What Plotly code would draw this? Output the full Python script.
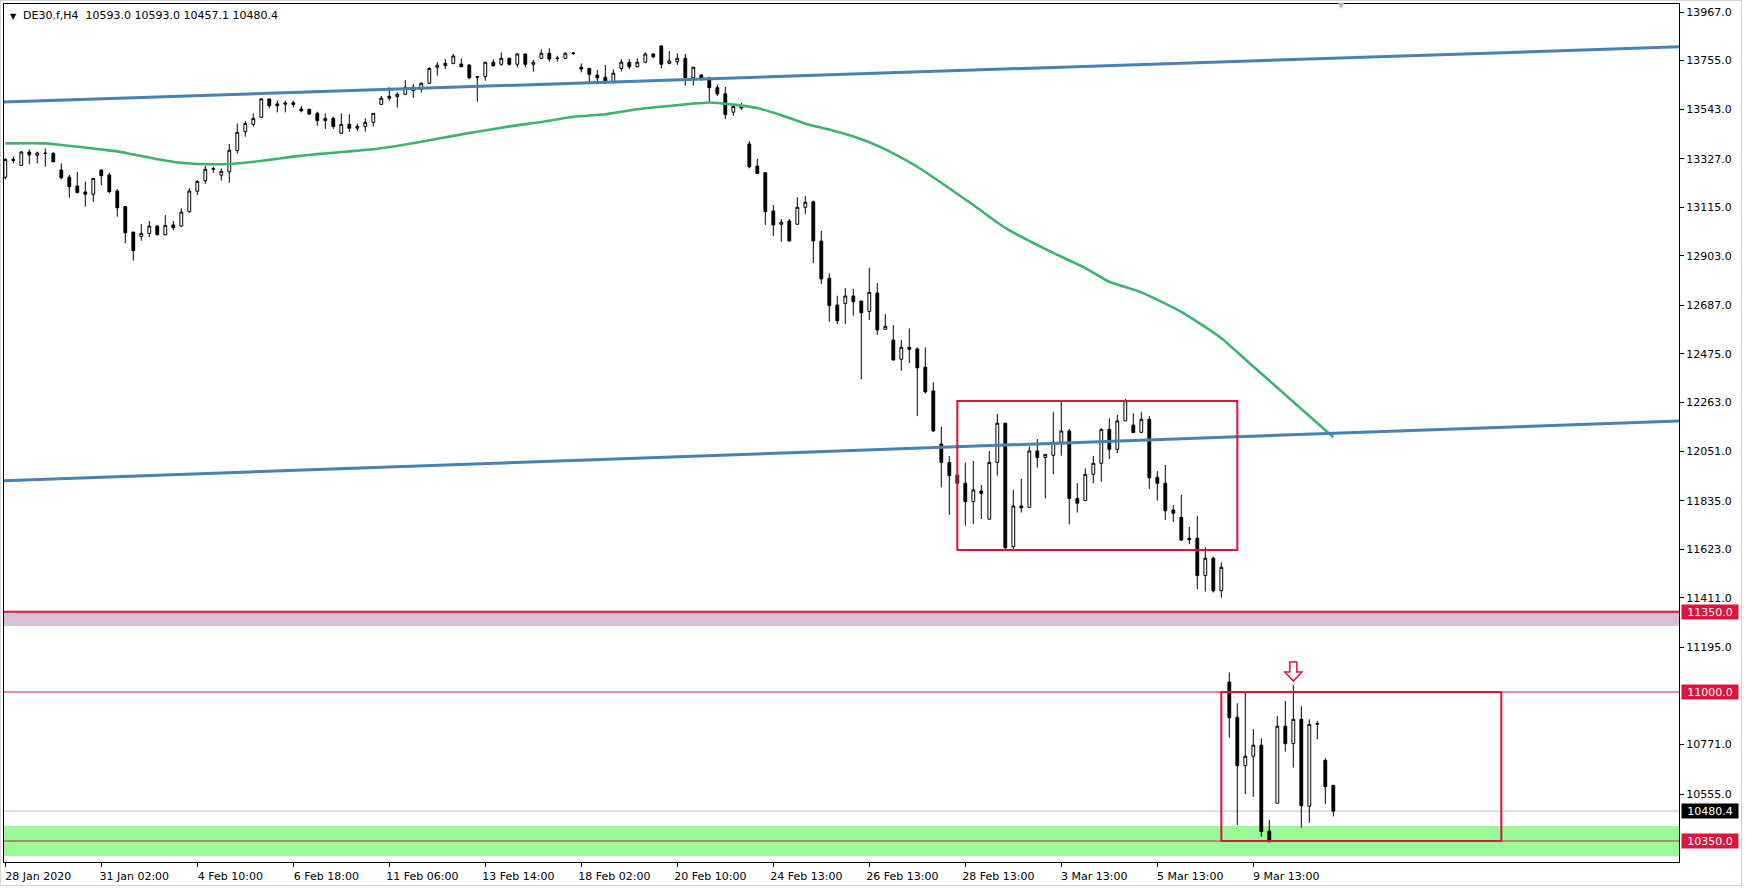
import plotly.graph_objects as go

# ---------------- data ----------------
symbol_header = "DE30.f,H4\u00a0\u00a010593.0 10593.0 10457.1 10480.4"

bars = list(range(167))

opens = [13246, 13324, 13298, 13356, 13342, 13350, 13350, 13278, 13247, 13208,
         13182, 13172, 13278, 13256, 13186, 13118, 13007, 12988, 13001, 13033,
         12995, 13038, 13033, 13096, 13185, 13231, 13281, 13255, 13270, 13362,
         13445, 13477, 13508, 13588, 13566, 13570, 13571, 13544, 13543, 13525,
         13493, 13503, 13438, 13477, 13460, 13467, 13486, 13564, 13591, 13598,
         13608, 13639, 13630, 13656, 13726, 13733, 13743, 13740, 13736, 13685,
         13685, 13748, 13739, 13765, 13739, 13784, 13739, 13765, 13787, 13766,
         13765, 13786, 13726, 13721, 13692, 13682, 13659, 13721, 13748, 13728,
         13748, 13784, 13819, 13743, 13750, 13765, 13680, 13692, 13678, 13637,
         13610, 13530, 13555, 13391, 13295, 13266, 13099, 13041, 13055, 13041,
         13115, 13139, 12968, 12805, 12689, 12696, 12728, 12706, 12660, 12741,
         12583, 12536, 12452, 12504, 12497, 12417, 12314, 12082, 12001, 11947,
         11911, 11831, 11877, 11754, 12002, 12173, 11634, 11812, 11806, 12052,
         12024, 12033, 12090, 12139, 11845, 11835, 11950, 11998, 12146, 12059,
         12183, 12165, 12133, 12190, 11937, 11911, 11794, 11762, 11671, 11671,
         11508, 11584, 11442, 11044, 10890, 10679, 10720, 10768, 10394, 10515,
         10851, 10775, 10881, 10502, 10860, 10702, 10593.0]

highs = [13329, 13336, 13361, 13368, 13358, 13372, 13356, 13307, 13256, 13269,
         13227, 13243, 13278, 13266, 13194, 13121, 13007, 13042, 13055, 13038,
         13081, 13055, 13111, 13198, 13234, 13295, 13292, 13285, 13391, 13481,
         13491, 13525, 13591, 13588, 13580, 13580, 13580, 13557, 13543, 13532,
         13525, 13510, 13525, 13521, 13481, 13503, 13525, 13601, 13639, 13617,
         13670, 13652, 13660, 13726, 13748, 13762, 13784, 13765, 13739, 13685,
         13750, 13761, 13791, 13768, 13787, 13784, 13758, 13804, 13809, 13776,
         13791, 13791, 13743, 13724, 13714, 13736, 13717, 13762, 13762, 13765,
         13791, 13787, 13823, 13797, 13787, 13784, 13728, 13695, 13685, 13650,
         13640, 13565, 13570, 13404, 13326, 13266, 13125, 13064, 13064, 13159,
         13164, 13144, 13012, 12827, 12729, 12762, 12759, 12706, 12851, 12785,
         12649, 12601, 12536, 12587, 12504, 12504, 12351, 12158, 12030, 11947,
         12001, 12008, 11903, 12052, 12213, 12173, 11882, 11930, 12071, 12104,
         12037, 12221, 12267, 12148, 11911, 11976, 12030, 12151, 12194, 12209,
         12279, 12216, 12221, 12204, 11964, 11991, 11816, 11860, 11721, 11768,
         11632, 11591, 11566, 11086, 10951, 10997, 10838, 10798, 10442, 10896,
         10961, 11031, 10939, 10881, 10874, 10711, 10593.0]

lows = [13237, 13307, 13295, 13303, 13307, 13292, 13312, 13237, 13157, 13176,
        13118, 13139, 13212, 13176, 13074, 12958, 12882, 12969, 12984, 12993,
        12993, 13016, 13030, 13091, 13169, 13217, 13266, 13231, 13222, 13350,
        13423, 13467, 13506, 13547, 13529, 13529, 13551, 13529, 13518, 13471,
        13457, 13457, 13438, 13445, 13449, 13445, 13467, 13561, 13580, 13550,
        13605, 13593, 13615, 13652, 13689, 13718, 13739, 13728, 13673, 13576,
        13667, 13728, 13733, 13733, 13726, 13726, 13707, 13762, 13750, 13750,
        13762, 13779, 13704, 13656, 13659, 13656, 13656, 13707, 13717, 13726,
        13743, 13765, 13721, 13739, 13736, 13646, 13646, 13667, 13576, 13600,
        13500, 13515, 13540, 13285, 13263, 13038, 12990, 12965, 12965, 13041,
        13086, 12871, 12780, 12616, 12606, 12606, 12642, 12365, 12623, 12558,
        12583, 12446, 12402, 12436, 12204, 12303, 12136, 11893, 11773, 11911,
        11726, 11733, 11755, 11754, 11944, 11623, 11624, 11783, 11806, 11979,
        11845, 11950, 12031, 11732, 11783, 11835, 11911, 11918, 12017, 12042,
        12183, 12132, 12133, 11886, 11835, 11751, 11743, 11659, 11645, 11448,
        11438, 11434, 11412, 10801, 10420, 10555, 10543, 10369, 10345, 10515,
        10740, 10670, 10408, 10430, 10794, 10512, 10457.1]

closes = [13324, 13320, 13356, 13344, 13352, 13351, 13314, 13244, 13205, 13179,
          13172, 13241, 13253, 13183, 13113, 13004, 12926, 13001, 13033, 12995,
          13036, 13026, 13094, 13186, 13228, 13281, 13283, 13272, 13364, 13442,
          13481, 13503, 13588, 13558, 13558, 13566, 13564, 13536, 13522, 13493,
          13503, 13467, 13477, 13460, 13468, 13486, 13525, 13591, 13599, 13608,
          13639, 13624, 13656, 13721, 13735, 13743, 13775, 13728, 13680, 13683,
          13748, 13733, 13765, 13739, 13784, 13739, 13748, 13787, 13762, 13764,
          13787, 13788, 13718, 13695, 13680, 13659, 13700, 13748, 13728, 13748,
          13784, 13772, 13739, 13753, 13765, 13680, 13726, 13673, 13637, 13610,
          13520, 13555, 13548, 13292, 13263, 13096, 13038, 13050, 12968, 13115,
          13137, 12968, 12802, 12686, 12620, 12728, 12703, 12655, 12744, 12580,
          12596, 12449, 12504, 12495, 12415, 12310, 12139, 12002, 11944, 11911,
          11831, 11882, 11867, 12002, 12173, 11630, 11812, 11804, 12052, 12023,
          12037, 12090, 12139, 11845, 11824, 11950, 11998, 12146, 12059, 12183,
          12271, 12132, 12190, 11935, 11911, 11791, 11780, 11663, 11665, 11508,
          11584, 11442, 11544, 10888, 10679, 10720, 10768, 10391, 10347, 10851,
          10775, 10881, 10504, 10859, 10862, 10587, 10480.4]

# moving average
ma_bars = [0, 5, 7, 10, 12, 14, 16, 18, 20, 22, 24, 28, 30, 33, 36, 39, 43, 46,
           50, 54, 58, 63, 67, 71, 75, 79, 83, 88, 91, 94, 97, 100, 103, 107,
           110, 112, 114, 117, 121, 125, 131, 135, 138, 142, 147, 152, 156, 166]
ma_vals = [13394, 13394, 13387, 13376, 13367, 13359, 13345, 13332, 13319, 13309,
           13304, 13304, 13309, 13322, 13336, 13347, 13359, 13368, 13389, 13414,
           13439, 13468, 13487, 13510, 13521, 13543, 13557, 13572, 13563, 13548,
           13517, 13480, 13454, 13412, 13368, 13332, 13292, 13222, 13125, 13025,
           12916, 12850, 12790, 12744, 12659, 12544, 12420, 12112]

# trend lines (anchor bar, anchor price)
upper_tl_bars = [-1, 210]
upper_tl_prices = [13573.4, 13815.9]
lower_tl_bars = [-1, 210]
lower_tl_prices = [11921.0, 12183.5]

# horizontal levels
level_strong = 11350.0
level_strong_band_low = 11288.0
level_mid = 11000.0
level_low = 10350.0
green_band = [10285.0, 10416.0]
last_price = 10480.4

# boxes: (first bar, last bar, top price, bottom price)
box1 = (119, 154, 12270.0, 11620.0)
box2 = (152, 187, 11000.0, 10350.0)

arrow_bar = 161
arrow_price = 11048.0

x_tick_bars = [0, 12, 24, 36, 48, 60, 72, 84, 96, 108, 120, 132, 144, 156]
x_tick_text = ["28 Jan 2020", "31 Jan 02:00", "4 Feb 10:00", "6 Feb 18:00",
               "11 Feb 06:00", "13 Feb 14:00", "18 Feb 02:00", "20 Feb 10:00",
               "24 Feb 13:00", "26 Feb 13:00", "28 Feb 13:00", "3 Mar 13:00",
               "5 Mar 13:00", "9 Mar 13:00"]
y_ticks = [13967, 13755, 13543, 13327, 13115, 12903, 12687, 12475, 12263, 12051,
           11835, 11623, 11411, 11195, 10771, 10555]

x_range = [-0.1625, 209.21]
y_range = [10258.5, 14002.0]

# ---------------- styles ----------------
FONT = "DejaVu Sans"
CRIMSON = "#DC143C"
W, H = 1745, 888
ML, MR, MT, MB = 4, 66, 4, 26

fig = go.Figure()

fig.add_trace(go.Candlestick(
    x=bars, open=opens, high=highs, low=lows, close=closes,
    increasing=dict(line=dict(color="black", width=1), fillcolor="white"),
    decreasing=dict(line=dict(color="black", width=1), fillcolor="black"),
    whiskerwidth=0, hoverinfo="skip", name="DE30.f"))

fig.add_trace(go.Scatter(x=ma_bars, y=ma_vals, mode="lines",
                         line=dict(color="#3CB371", width=2.6, shape="spline",
                                   smoothing=0.6), hoverinfo="skip"))
fig.add_trace(go.Scatter(x=upper_tl_bars, y=upper_tl_prices, mode="lines",
                         line=dict(color="#4682B4", width=3), hoverinfo="skip"))
fig.add_trace(go.Scatter(x=lower_tl_bars, y=lower_tl_prices, mode="lines",
                         line=dict(color="#4682B4", width=3), hoverinfo="skip"))

shapes = []
# bands
shapes.append(dict(type="rect", xref="paper", yref="y", x0=0, x1=1,
                   y0=level_strong_band_low, y1=level_strong,
                   fillcolor="#D8BFD8", line=dict(width=0), layer="below"))
shapes.append(dict(type="rect", xref="paper", yref="y", x0=0, x1=1,
                   y0=green_band[0], y1=green_band[1],
                   fillcolor="#98FB98", line=dict(width=0), layer="below"))
# horizontal lines
shapes.append(dict(type="line", xref="paper", yref="y", x0=0, x1=1,
                   y0=last_price, y1=last_price,
                   line=dict(color="#C0C0C0", width=1), layer="below"))
shapes.append(dict(type="line", xref="paper", yref="y", x0=0, x1=1,
                   y0=level_strong, y1=level_strong,
                   line=dict(color=CRIMSON, width=2), layer="below"))
shapes.append(dict(type="line", xref="paper", yref="y", x0=0, x1=1,
                   y0=level_mid, y1=level_mid,
                   line=dict(color=CRIMSON, width=1), layer="below"))
shapes.append(dict(type="line", xref="paper", yref="y", x0=0, x1=1,
                   y0=level_low, y1=level_low,
                   line=dict(color=CRIMSON, width=1), layer="below"))
# boxes
for b in (box1, box2):
    shapes.append(dict(type="rect", xref="x", yref="y", x0=b[0], x1=b[1],
                       y0=b[3], y1=b[2], line=dict(color=CRIMSON, width=2),
                       fillcolor="rgba(0,0,0,0)", layer="above"))
# hollow down arrow object (pixel-sized, anchored at bar/price)
shapes.append(dict(type="path", xref="x", yref="y", xsizemode="pixel",
                   ysizemode="pixel", xanchor=arrow_bar, yanchor=arrow_price,
                   path="M0,0 L-8.5,9 L-3.5,9 L-3.5,19 L3.5,19 L3.5,9 L8.5,9 Z",
                   line=dict(color=CRIMSON, width=1.5), fillcolor="white",
                   layer="above"))
# outer window border
pw = W - ML - MR
ph = H - MT - MB
shapes.append(dict(type="rect", xref="paper", yref="paper",
                   x0=(-ML + 0.5) / pw, x1=(W - ML - 3.5) / pw,
                   y0=-(MB - 2.5) / ph, y1=1 + (MT - 0.5) / ph,
                   line=dict(color="#D4D4D4", width=1), fillcolor="rgba(0,0,0,0)",
                   layer="below"))

annotations = []
# header
annotations.append(dict(xref="paper", yref="paper", x=0, y=1, xanchor="left",
                        yanchor="top", xshift=4, yshift=-6, text="\u25BC",
                        showarrow=False, font=dict(family=FONT, size=8, color="black")))
annotations.append(dict(xref="paper", yref="paper", x=0, y=1, xanchor="left",
                        yanchor="top", xshift=17, yshift=-3, text=symbol_header,
                        showarrow=False, font=dict(family=FONT, size=11, color="black")))
# chart shift marker
annotations.append(dict(xref="x", yref="paper", x=167, y=1, xanchor="center",
                        yanchor="middle", yshift=-1, text="\u25BC", showarrow=False,
                        font=dict(family=FONT, size=8, color="#B4B4B4")))
# price labels
for val, bg in ((level_strong, CRIMSON), (level_mid, CRIMSON),
                (last_price, "black"), (level_low, CRIMSON)):
    annotations.append(dict(xref="paper", yref="y", x=1, y=val, xanchor="left",
                            yanchor="middle", xshift=2, text=f"{val:.1f}",
                            showarrow=False, bgcolor=bg, borderpad=1,
                            width=54, height=12, align="center",
                            font=dict(family=FONT, size=11, color="white")))

fig.update_layout(
    width=W, height=H,
    margin=dict(l=ML, r=MR, t=MT, b=MB, pad=0, autoexpand=False),
    paper_bgcolor="white", plot_bgcolor="white",
    showlegend=False, boxgap=0.5,
    font=dict(family=FONT, size=11, color="black"),
    shapes=shapes, annotations=annotations,
    xaxis=dict(range=x_range, tickmode="array", tickvals=x_tick_bars,
               ticktext=x_tick_text, ticks="outside", ticklen=4, tickcolor="black",
               showline=True, mirror=True, linecolor="black", linewidth=1,
               showgrid=False, zeroline=False, rangeslider=dict(visible=False),
               automargin=False, ticklabelshift=33,
               tickfont=dict(family=FONT, size=11, color="black")),
    yaxis=dict(range=y_range, side="right", tickmode="array", tickvals=y_ticks,
               ticktext=[f"{v:.1f}" for v in y_ticks], ticks="outside", ticklen=4,
               tickcolor="black", showline=True, mirror=True, linecolor="black",
               linewidth=1, showgrid=False, zeroline=False, automargin=False,
               tickfont=dict(family=FONT, size=11, color="black")),
)

fig.write_html("out.html", config={"displayModeBar": False},
               post_script="document.body.style.margin='0';"
                           "document.body.style.overflow='hidden';")
